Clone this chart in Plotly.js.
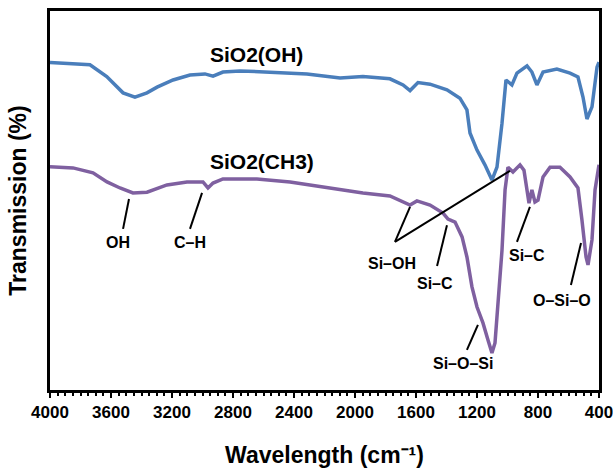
<!DOCTYPE html>
<html>
<head>
<meta charset="utf-8">
<script src="https://cdn.plot.ly/plotly-3.0.1.min.js"></script>
<style>html,body{margin:0;padding:0;background:#fff}#chart{width:613px;height:468px}</style>
</head>
<body>
<div id="chart"></div>
<script>
// Wavenumber (cm-1) and transmission (arbitrary %)
const wnOH = [4000,3738,3628,3521,3443,3364,3298,3193,3082,2984,2931,2866,2754,2538,2315,2098,1948,1771,1685,1639,1587,1508,1397,1312,1266,1246,1200,1148,1102,1069,1036,1010,971,938,872,840,807,767,676,590,538,505,479,446,413,400];
const tOH  = [86.4,85.8,82.7,78.4,77.3,78.4,79.9,81.8,83.1,83.4,82.8,83.9,84.2,83.9,83.4,82.3,82.7,82.1,80.5,79.0,81.1,80.7,79.2,77.0,73.9,67.8,63.3,59.4,55.4,58.8,70.4,81.8,80.5,83.6,85.5,83.9,80.5,83.9,84.7,83.6,82.6,77.3,71.5,74.7,85.2,86.5];

const wnCH3 = [4000,3849,3718,3626,3541,3456,3364,3233,3102,2997,2964,2931,2866,2643,2426,2210,2098,1948,1771,1685,1639,1594,1508,1423,1390,1344,1298,1266,1233,1200,1161,1128,1102,1082,1062,1036,1016,997,964,918,892,872,859,840,820,800,767,721,656,590,538,512,485,472,446,426,400];
const tCH3  = [58.9,58.6,57.3,54.9,53.3,52.0,52.2,54.1,54.9,54.9,53.3,54.6,55.7,55.7,54.9,53.6,52.8,52.0,51.2,49.6,48.8,49.9,48.8,46.7,45.1,44.3,40.4,35.1,27.2,21.9,17.7,13.2,9.8,12.4,23.7,36.9,52.8,58.8,57.5,59.4,58.0,52.8,49.3,52.8,49.6,50.1,56.2,58.8,58.8,56.2,53.3,44.9,35.1,33.0,39.6,52.8,59.4];

const tickVals = [4000,3600,3200,2800,2400,2000,1600,1200,800,400];
const tickText = ["4000","3600","3200","2800","2400","2000","1600","1200","800","400"];

const seriesNames = ["SiO2(OH)","SiO2(CH3)"];
const bandLabels = ["OH","C–H","Si–OH","Si–C","Si–C","O–Si–O","Si–O–Si"];

const blue = '#4a7ebb', purple = '#7f60a0';
const fontFam = '"Liberation Sans", Arial, sans-serif';

const traces = [
  {x: wnOH, y: tOH, type:'scatter', mode:'lines', name: seriesNames[0], line:{color: blue, width:3.5}},
  {x: wnCH3, y: tCH3, type:'scatter', mode:'lines', name: seriesNames[1], line:{color: purple, width:3.5}}
];

function lineShape(x0,y0,x1,y1){
  return {type:'line', xref:'x', yref:'y', x0:x0, y0:y0, x1:x1, y1:y1, line:{color:'#000', width:2}};
}
const shapes = [
  lineShape(3482,50.4,3521,42.5),
  lineShape(3003,52.0,3082,42.5),
  lineShape(1738,39.1,1639,48.3),
  lineShape(1738,39.1,984,57.8),
  lineShape(1462,32.7,1397,43.5),
  lineShape(938,39.1,853,48.3),
  lineShape(584,27.7,518,38.8),
  lineShape(1266,10.6,1194,17.2)
];

function lab(text,x,y,size){
  return {text:text, x:x, y:y, xref:'x', yref:'y', showarrow:false,
    font:{family:fontFam, size:size, color:'#000', weight:'bold'}};
}
const annotations = [
  lab(seriesNames[0],2643,88.4,21),
  lab(seriesNames[1],2610,60.4,21),
  lab(bandLabels[0],3554,38.8,16),
  lab(bandLabels[1],3082,38.8,16),
  lab(bandLabels[2],1757,33.5,16),
  lab(bandLabels[3],1476,28.0,16),
  lab(bandLabels[4],872,35.4,16),
  lab(bandLabels[5],643,23.7,16),
  lab(bandLabels[6],1292,7.1,16)
];

const layout = {
  width:613, height:468,
  margin:{l:50, r:14, t:11, b:78},
  paper_bgcolor:'#fff', plot_bgcolor:'#fff',
  showlegend:false,
  font:{family:fontFam, color:'#000'},
  xaxis:{
    range:[4000,400], tickmode:'array', tickvals:tickVals, ticktext:tickText,
    ticks:'outside', ticklen:5, tickwidth:2, tickcolor:'#000',
    ticklabeloverflow:'allow',
    minor:{dtick:50, tick0:400, ticks:'outside', ticklen:3, tickwidth:2, tickcolor:'#000', showgrid:false},
    showline:true, linewidth:3, linecolor:'#000', mirror:true,
    showgrid:false, zeroline:false,
    tickfont:{family:fontFam, size:17, color:'#000', weight:'bold'},
    title:{text:'Wavelength (cm⁻¹)', font:{family:fontFam, size:23, color:'#000', weight:'bold'}, standoff:30}
  },
  yaxis:{
    range:[0,100], showticklabels:false, ticks:'',
    showline:true, linewidth:3, linecolor:'#000', mirror:true,
    showgrid:false, zeroline:false,
    title:{text:'Transmission (%)', font:{family:fontFam, size:23, color:'#000', weight:'bold'}, standoff:14}
  },
  shapes: shapes,
  annotations: annotations
};

Plotly.newPlot('chart', traces, layout, {displayModeBar:false, staticPlot:true});
</script>
</body>
</html>
